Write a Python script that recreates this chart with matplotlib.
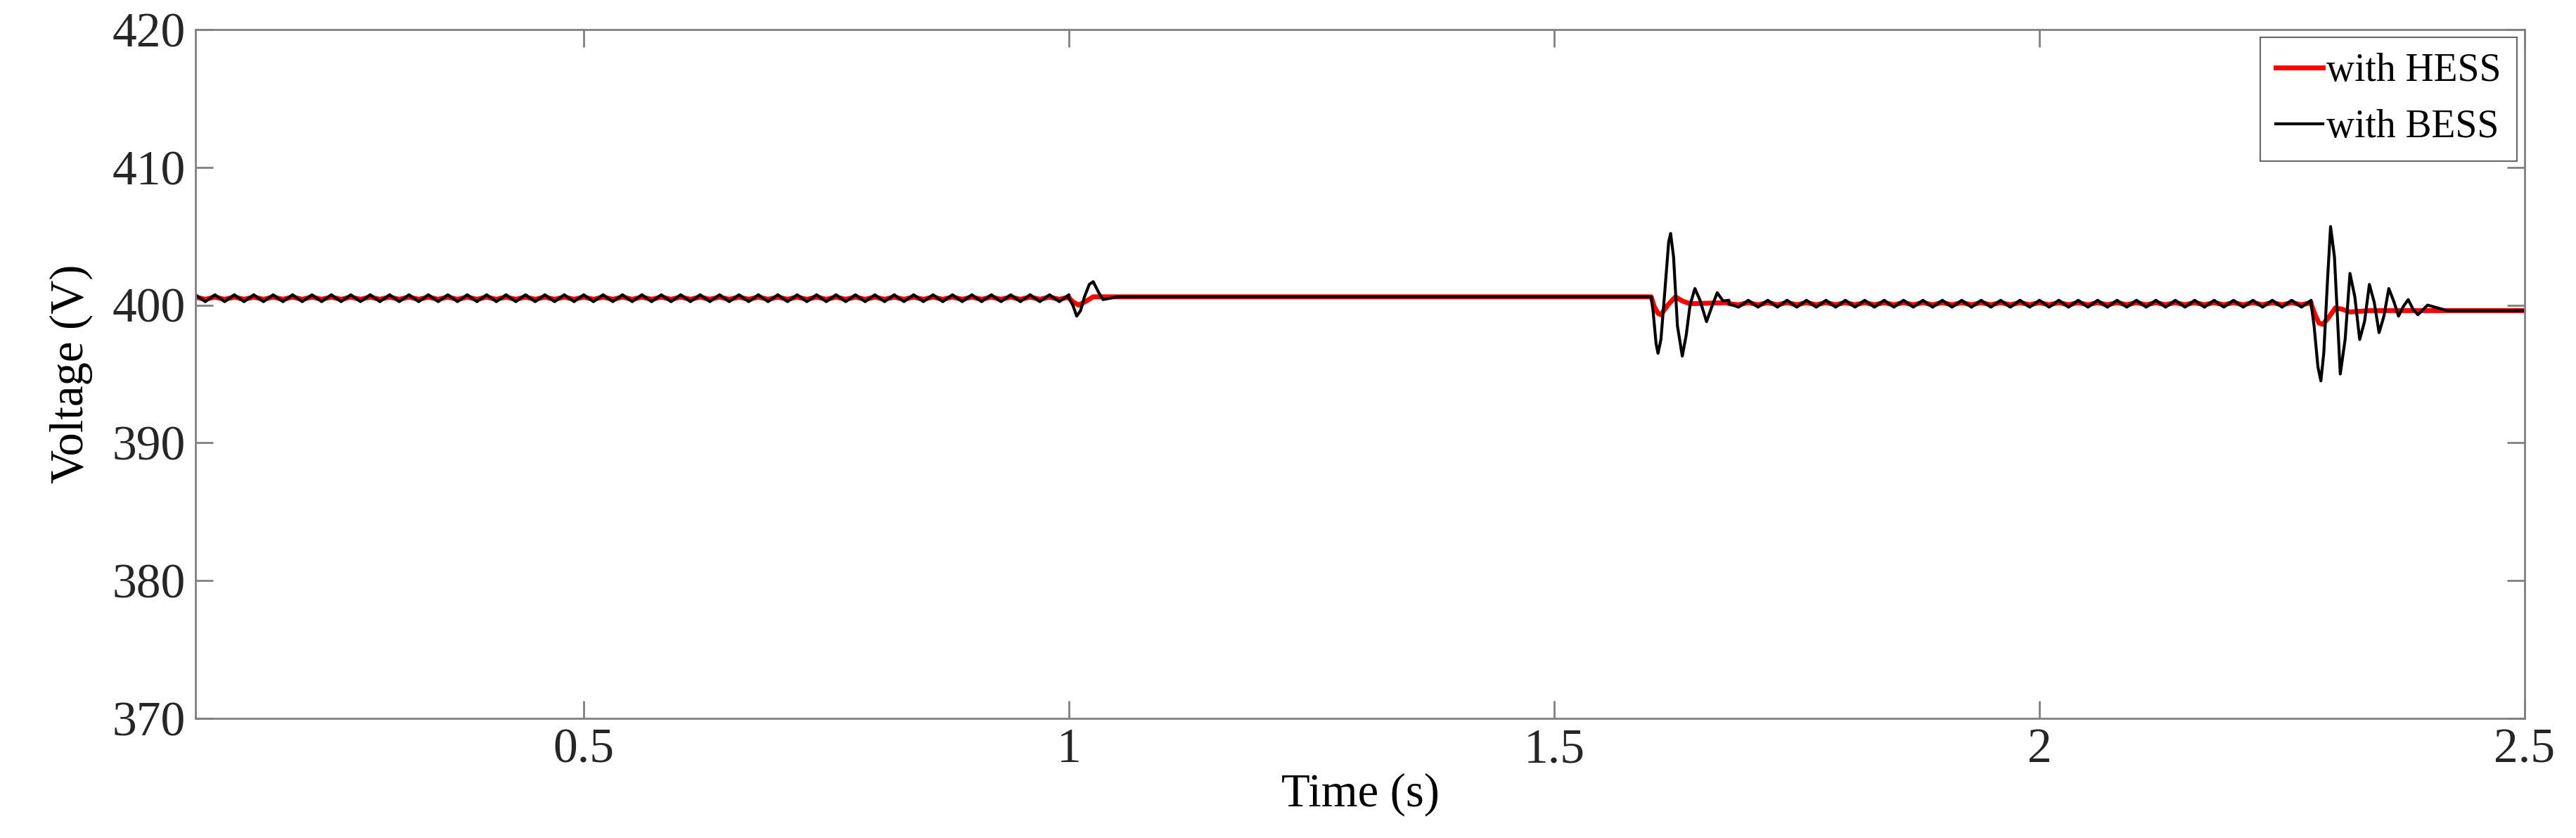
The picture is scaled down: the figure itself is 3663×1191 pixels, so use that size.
import numpy as np
import matplotlib
matplotlib.use("Agg")
import matplotlib.pyplot as plt

plt.rcParams["font.family"] = ["Liberation Serif", "DejaVu Serif"]

# ripple segments: (start, end, mean level, half amplitude)  period 0.02 s
BESS_RIPPLE = [(0.1, 1.0, 400.5, 0.25), (1.68, 2.28, 400.1, 0.25)]
HESS_RIPPLE = [(0.1, 1.0, 400.5, 0.08), (1.68, 2.28, 400.1, 0.08)]
RIPPLE_PERIOD = 0.02

# transient keypoints
BESS_T = [1.0, 1.004, 1.008, 1.012, 1.016, 1.021, 1.025, 1.03, 1.035, 1.05, 1.6,
          1.602, 1.605, 1.607, 1.61, 1.614, 1.618, 1.62, 1.623, 1.627, 1.632, 1.636,
          1.64, 1.645, 1.65, 1.657, 1.662, 1.668, 1.674, 1.68,
          2.28, 2.283, 2.287, 2.29, 2.293, 2.297, 2.30, 2.304, 2.31, 2.315, 2.32,
          2.325, 2.33, 2.335, 2.34, 2.345, 2.35, 2.355, 2.36, 2.365, 2.37,
          2.375, 2.38, 2.385, 2.39, 2.40, 2.42, 2.5]
BESS_V = [400.5, 400.0, 399.2, 399.6, 400.6, 401.5, 401.7, 401.0, 400.4, 400.6, 400.6,
          399.5, 397.2, 396.5, 397.5, 401.0, 404.6, 405.2, 403.5, 398.5, 396.3, 397.8,
          400.0, 401.2, 400.4, 398.8, 399.8, 400.9, 400.3, 400.1,
          400.1, 398.5, 395.5, 394.5, 396.5, 402.0, 405.7, 403.5, 395.0, 397.5, 402.3,
          400.6, 397.5, 398.8, 401.5, 400.2, 398.0, 399.2, 401.2, 400.3, 399.2,
          399.9, 400.4, 399.7, 399.3, 400.0, 399.6, 399.6]
HESS_T = [1.0, 1.005, 1.01, 1.018, 1.025, 1.04, 1.6, 1.603, 1.607, 1.61, 1.617,
          1.625, 1.632, 1.64, 1.68,
          2.28, 2.284, 2.288, 2.292, 2.298, 2.305, 2.312, 2.32, 2.34, 2.5]
HESS_V = [400.5, 400.2, 400.0, 400.3, 400.6, 400.6, 400.6, 399.9, 399.4, 399.3, 400.0,
          400.6, 400.3, 400.1, 400.1,
          400.1, 399.3, 398.7, 398.6, 399.1, 399.8, 399.7, 399.5, 399.6, 399.6]


def build(ripple, kt, kv):
    ts, vs = [], []
    for start, end, level, amp in ripple:
        n = int(round((end - start) / (RIPPLE_PERIOD / 2)))
        t = np.linspace(start, end, n + 1)
        v = level + amp * np.where(np.arange(n + 1) % 2 == 0, 1, -1)
        ts.append(t)
        vs.append(v)
    ts.append(np.array(kt))
    vs.append(np.array(kv))
    t = np.concatenate(ts)
    v = np.concatenate(vs)
    order = np.argsort(t, kind="stable")
    return t[order], v[order]


fig = plt.figure(figsize=(36.63, 11.91), dpi=100)
ax = fig.add_axes([278 / 3663, 1 - 1021 / 1191, (3590 - 278) / 3663, (1021 - 42) / 1191])

th, vh = build(HESS_RIPPLE, HESS_T, HESS_V)
tb, vb = build(BESS_RIPPLE, BESS_T, BESS_V)
ax.plot(th, vh, color="#ff0000", lw=5, label="with HESS")
ax.plot(tb, vb, color="black", lw=3, label="with BESS")

ax.set_xlim(0.1, 2.5)
ax.set_ylim(370, 420)
ax.set_xticks([0.5, 1, 1.5, 2, 2.5])
ax.set_xticklabels(["0.5", "1", "1.5", "2", "2.5"])
ax.set_yticks([370, 380, 390, 400, 410, 420])
ax.tick_params(direction="in", length=18, width=2, color="#808080",
               labelsize=50, top=True, right=True, pad=10, labelcolor="#262626")
for s in ax.spines.values():
    s.set_color("#808080")
    s.set_linewidth(2)
ax.set_xlabel("Time (s)", fontsize=48, labelpad=0)
ax.set_ylabel("Voltage (V)", fontsize=48, labelpad=20)

leg = ax.legend(loc="upper right", fontsize=40, frameon=True, fancybox=False,
                edgecolor="#404040", handlelength=1.2, handletextpad=0.1,
                borderaxespad=0.2)
leg.get_frame().set_linewidth(1.5)

fig.savefig("out.png", dpi=100)
